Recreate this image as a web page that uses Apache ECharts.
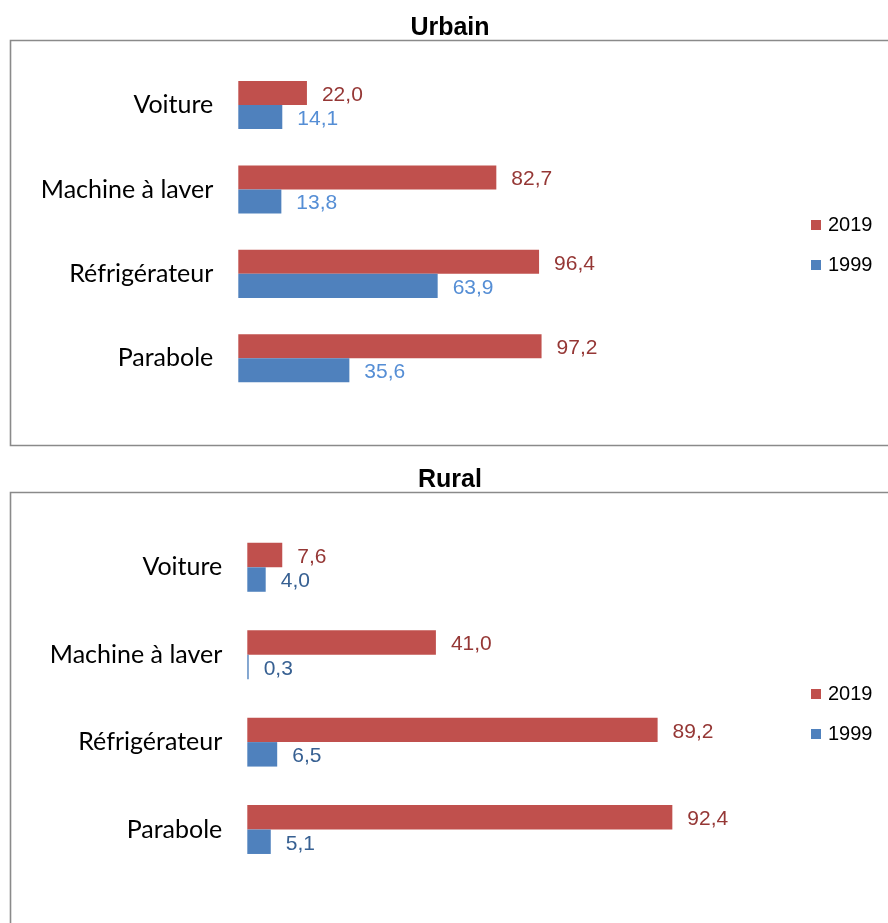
<!DOCTYPE html>
<html>
<head>
<meta charset="utf-8">
<script src="https://cdn.jsdelivr.net/npm/echarts@6/dist/echarts.min.js"></script>
<style>
  html, body { margin: 0; padding: 0; background: #fff; }
  #chart { width: 888px; height: 923px; }
</style>
</head>
<body>
<div id="chart"></div>
<script>
// Équipement des ménages (%), 1999 vs 2019
const categories = ['Voiture', 'Machine à laver', 'Réfrigérateur', 'Parabole'];
const seriesNames = ['2019', '1999'];
const urbain2019 = [22.0, 82.7, 96.4, 97.2];
const urbain1999 = [14.1, 13.8, 63.9, 35.6];
const rural2019 = [7.6, 41.0, 89.2, 92.4];
const rural1999 = [4.0, 0.3, 6.5, 5.1];
const panelTitles = ['Urbain', 'Rural'];

const RED = '#C0504D';
const BLUE = '#4F81BD';
const fmt = p => p.value.toFixed(1).replace('.', ',');

const chart = echarts.init(document.getElementById('chart'), null, { renderer: 'canvas' });

function barSeries(name, data, color, labelColor, axisIdx) {
  return {
    name: name,
    type: 'bar',
    xAxisIndex: axisIdx,
    yAxisIndex: axisIdx,
    data: data,
    barGap: '0%',
    barCategoryGap: axisIdx === 0 ? '43%' : '44%',
    itemStyle: { color: color },
    label: {
      show: true,
      position: 'right',
      distance: 15,
      offset: [0, 2],
      formatter: fmt,
      color: labelColor,
      fontFamily: 'Liberation Sans, Arial, sans-serif',
      fontSize: 21
    },
    emphasis: { disabled: true },
    animation: false
  };
}

function catAxis(gridIndex) {
  return {
    type: 'category',
    gridIndex: gridIndex,
    data: categories,
    inverse: true,
    axisLine: { show: false },
    axisTick: { show: false },
    axisLabel: {
      margin: 25,
      color: '#000',
      fontFamily: 'Lato, sans-serif',
      fontSize: 25
    }
  };
}

function valAxis(gridIndex) {
  return {
    type: 'value',
    gridIndex: gridIndex,
    min: 0,
    max: 100,
    show: false,
    splitLine: { show: false }
  };
}

function legend(top) {
  return {
    data: seriesNames,
    orient: 'vertical',
    left: 811,
    top: top,
    icon: 'rect',
    itemWidth: 10,
    itemHeight: 10,
    itemGap: 20,
    padding: 0,
    selectedMode: false,
    textStyle: {
      color: '#000',
      fontFamily: 'Liberation Sans, Arial, sans-serif',
      fontSize: 20,
      padding: [2, 0, 0, 2]
    }
  };
}

const option = {
  backgroundColor: '#fff',
  animation: false,
  graphic: [
    {
      type: 'rect', silent: true,
      shape: { x: 10.5, y: 40.5, width: 900, height: 405 },
      style: { fill: 'none', stroke: '#8a8a8a', lineWidth: 1.6 }
    },
    {
      type: 'rect', silent: true,
      shape: { x: 10.5, y: 492.5, width: 900, height: 460 },
      style: { fill: 'none', stroke: '#8a8a8a', lineWidth: 1.6 }
    },
    {
      type: 'text', silent: true, x: 450, y: 28,
      style: {
        text: panelTitles[0], align: 'center', verticalAlign: 'middle',
        font: 'bold 25px "Liberation Sans", Arial, sans-serif', fill: '#000'
      }
    },
    {
      type: 'text', silent: true, x: 450, y: 480,
      style: {
        text: panelTitles[1], align: 'center', verticalAlign: 'middle',
        font: 'bold 25px "Liberation Sans", Arial, sans-serif', fill: '#000'
      }
    }
  ],
  legend: [legend(215), legend(684)],
  grid: [
    { left: 238.3, top: 62.8, width: 312, height: 337.7 },
    { left: 247.3, top: 523.6, width: 460, height: 349.6 }
  ],
  xAxis: [valAxis(0), valAxis(1)],
  yAxis: [catAxis(0), catAxis(1)],
  series: [
    barSeries(seriesNames[0], urbain2019, RED, '#953735', 0),
    barSeries(seriesNames[1], urbain1999, BLUE, '#558ED5', 0),
    barSeries(seriesNames[0], rural2019, RED, '#953735', 1),
    barSeries(seriesNames[1], rural1999, BLUE, '#376092', 1)
  ]
};

chart.setOption(option);
</script>
</body>
</html>
